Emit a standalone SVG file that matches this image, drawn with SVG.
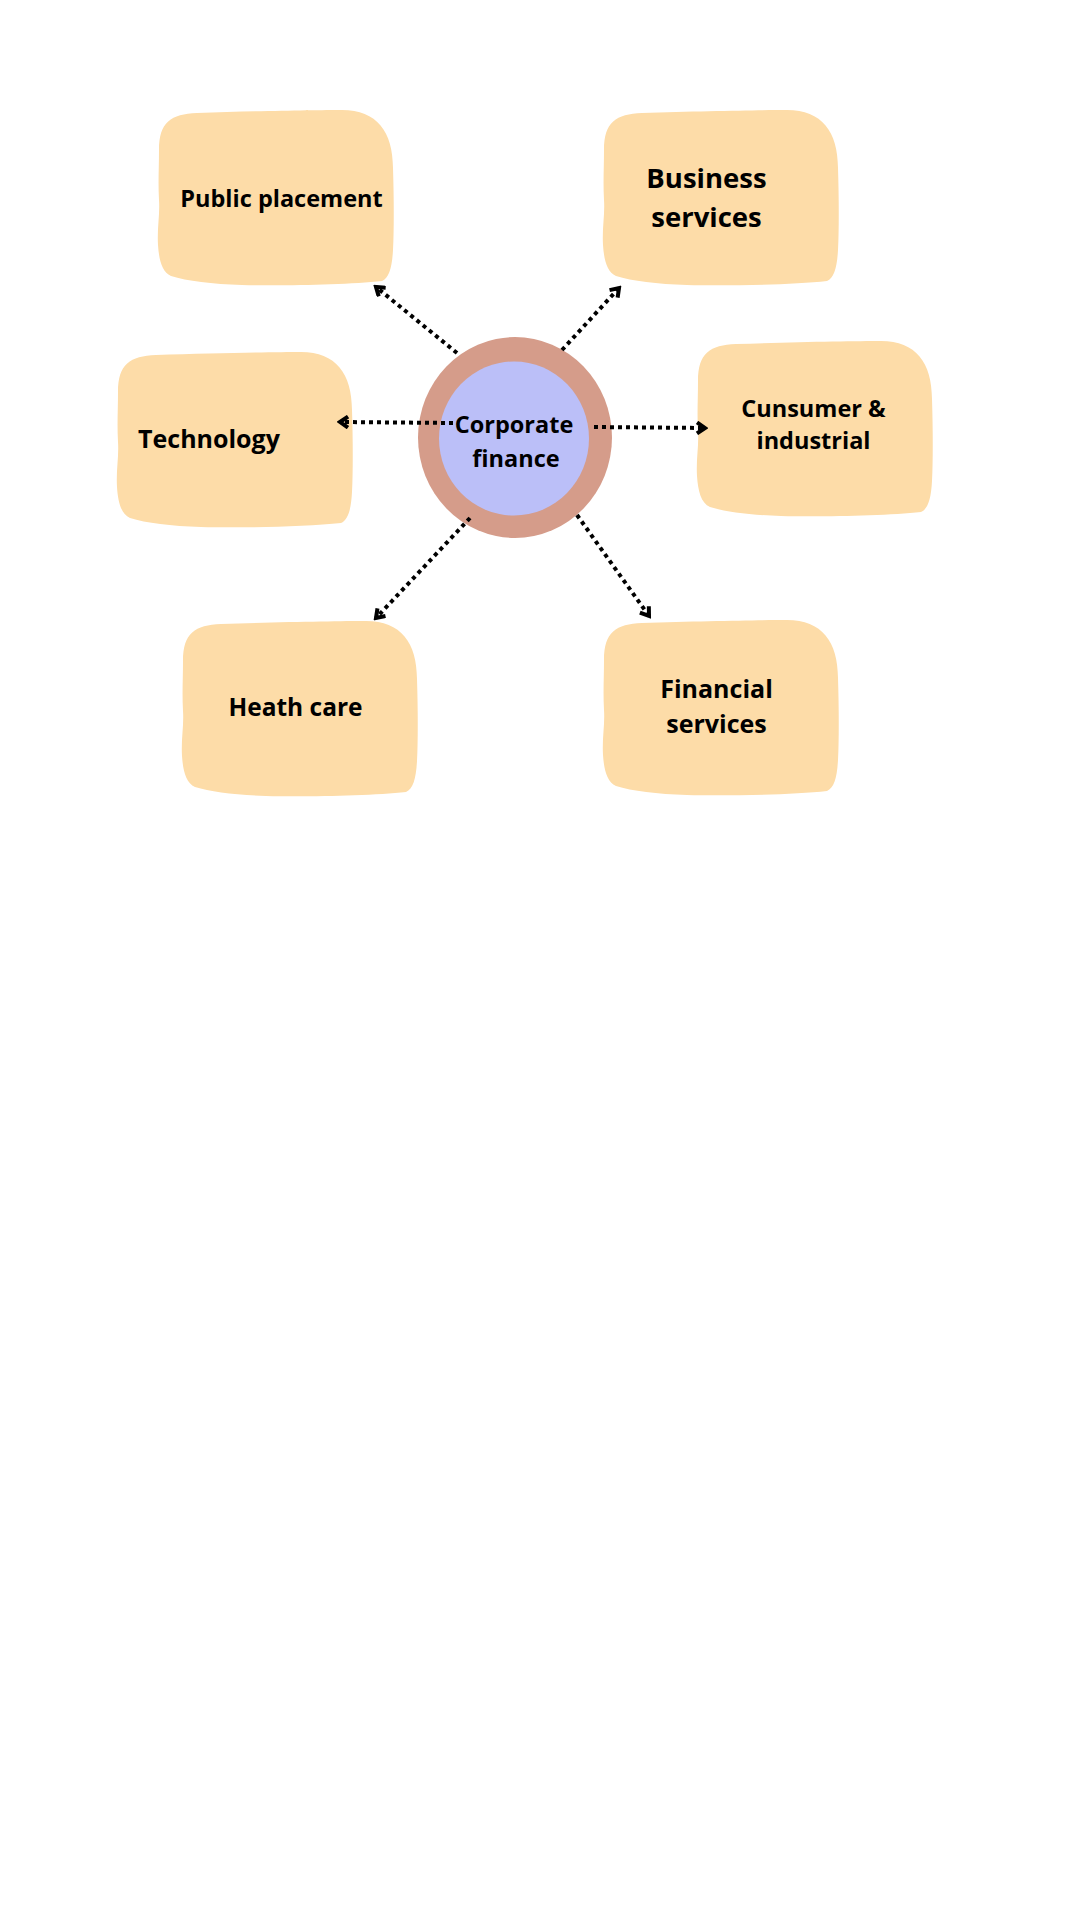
<svg xmlns="http://www.w3.org/2000/svg" xmlns:xlink="http://www.w3.org/1999/xlink" width="1080" height="1920" viewBox="0 0 1080 1920">
  <style>
    .box { fill: #FDDCA8; }
    .lbl { font-family: "Open Sans", "Liberation Sans", sans-serif; font-weight: 700; fill: #000; text-anchor: middle; }
    .conn { fill: none; stroke: #000; stroke-width: 4; stroke-dasharray: 4 4; }
  </style>
  <defs>
    <path id="blob" d="M 2,40 C 2,12 14,4 40,3 C 100,1 160,0 185,0 C 220,0 236,22 236,58 C 237,90 237,120 236,140 C 235,158 232,168 225,171 C 190,175 120,176 85,175 C 55,174 30,171 14,166 C 5,162 2,150 1,135 C 0,118 3,105 2,90 C 1,72 2,58 2,40 Z"/>
    <marker id="arr" markerUnits="userSpaceOnUse" viewBox="0 0 14 14" refX="11" refY="7" markerWidth="14" markerHeight="14" orient="auto">
      <path d="M 3,1.5 L 11,7 L 3,12.5" fill="none" stroke="#000" stroke-width="4" stroke-linejoin="miter"/>
    </marker>
  </defs>
  <rect width="1080" height="1920" fill="#fff"/>

  <g id="node-public-placement">
    <use xlink:href="#blob" href="#blob" class="box" transform="translate(157,110)"/>
    <text class="lbl" x="281.5" y="207" font-size="23.5">Public placement</text>
  </g>
  <g id="node-business-services">
    <use xlink:href="#blob" href="#blob" class="box" transform="translate(602,110)"/>
    <text class="lbl" x="706.5" y="188" font-size="27.5">Business</text>
    <text class="lbl" x="706.5" y="227" font-size="27.5">services</text>
  </g>
  <g id="node-technology">
    <use xlink:href="#blob" href="#blob" class="box" transform="translate(116,352)"/>
    <text class="lbl" x="209" y="448" font-size="25">Technology</text>
  </g>
  <g id="node-consumer-industrial">
    <use xlink:href="#blob" href="#blob" class="box" transform="translate(696,341)"/>
    <text class="lbl" x="813.5" y="417" font-size="23.5">Cunsumer &amp;</text>
    <text class="lbl" x="813.5" y="449" font-size="23.5">industrial</text>
  </g>
  <g id="node-heath-care">
    <use xlink:href="#blob" href="#blob" class="box" transform="translate(181,621)"/>
    <text class="lbl" x="295.5" y="716" font-size="24.5">Heath care</text>
  </g>
  <g id="node-financial-services">
    <use xlink:href="#blob" href="#blob" class="box" transform="translate(602,620)"/>
    <text class="lbl" x="716.5" y="698" font-size="25">Financial</text>
    <text class="lbl" x="716.5" y="733" font-size="25">services</text>
  </g>

  <g id="node-corporate-finance">
    <ellipse cx="515" cy="437.5" rx="97" ry="100.5" fill="#D59C8A"/>
    <ellipse cx="514" cy="438.5" rx="75" ry="77" fill="#BBBFF8"/>
    <text class="lbl" x="514" y="433" font-size="23.5">Corporate</text>
    <text class="lbl" x="516" y="467" font-size="23.5">finance</text>
  </g>

  <g id="connectors">
    <line class="conn" x1="457" y1="353" x2="376" y2="287" marker-end="url(#arr)"/>
    <line class="conn" x1="562" y1="350" x2="619" y2="288" marker-end="url(#arr)"/>
    <line class="conn" x1="453" y1="423" x2="340" y2="422" marker-end="url(#arr)"/>
    <line class="conn" x1="594" y1="427" x2="705" y2="428" marker-end="url(#arr)"/>
    <line class="conn" x1="470" y1="518" x2="376" y2="618" marker-end="url(#arr)"/>
    <line class="conn" x1="577" y1="515" x2="649" y2="616" marker-end="url(#arr)"/>
  </g>
</svg>
